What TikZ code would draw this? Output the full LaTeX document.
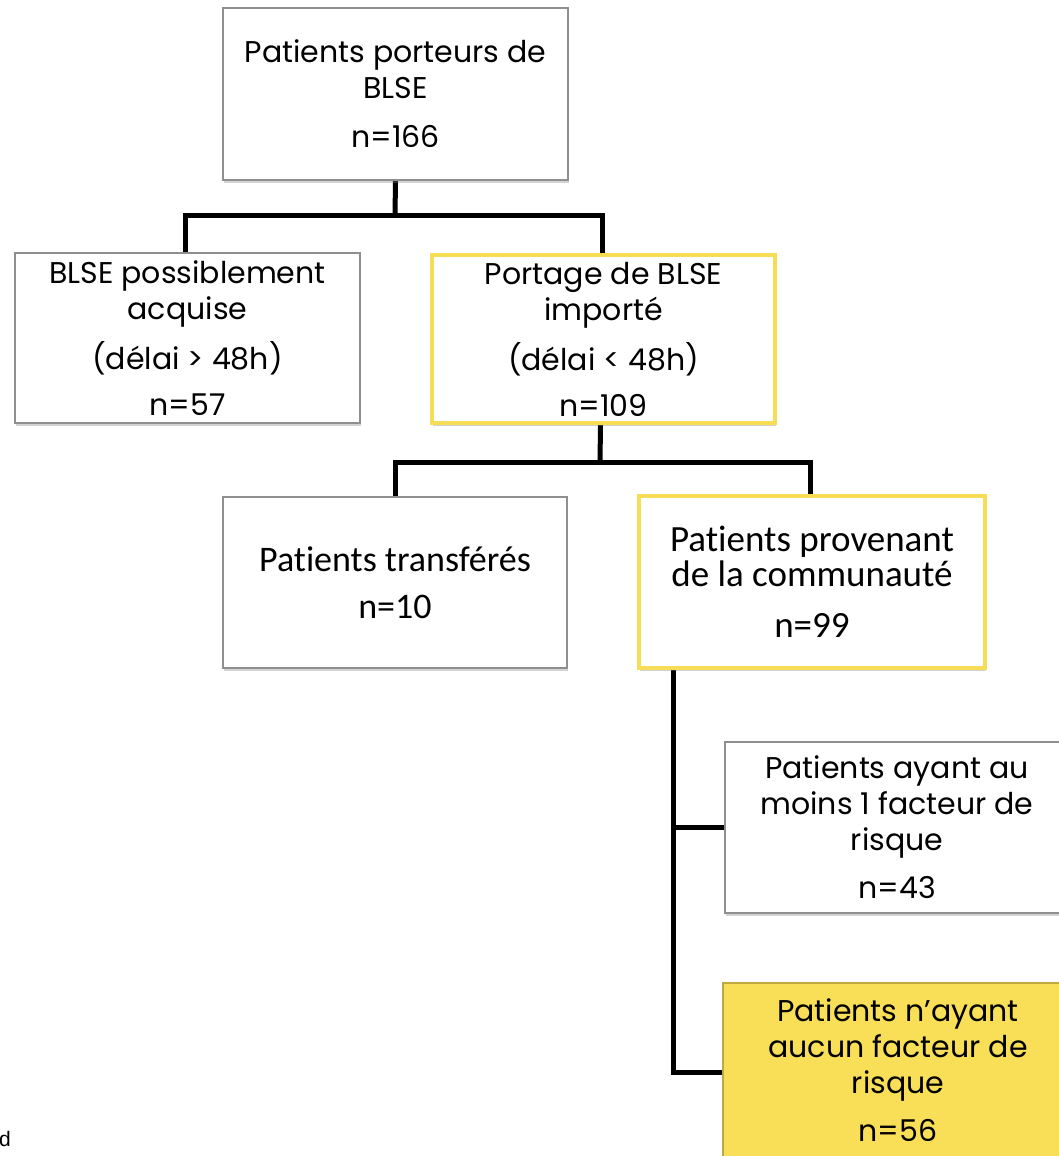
\documentclass[tikz,border=0pt]{standalone}
\usepackage{fontspec}
\setmainfont{Poppins}
\newfontfamily\calfont[Ligatures=NoCommon]{Carlito}
\newfontfamily\arialfont{Liberation Sans}
\usetikzlibrary{shadows,backgrounds}
\definecolor{ybord}{HTML}{F7DC55}
\definecolor{yfill}{HTML}{F9DE57}
\definecolor{ydark}{HTML}{BFA83E}
\definecolor{gbord}{HTML}{8F8F8F}
\tikzset{
  x=1pt,y=-1pt,
  box/.style={rectangle, inner sep=0pt, align=center, font=\fontsize{30}{36}\selectfont,
    drop shadow={opacity=0.35, shadow xshift=1pt, shadow yshift=-3pt}},
  graybox/.style={box, draw=gbord, line width=1.3pt, fill=white},
  yellowbox/.style={box, draw=ybord, line width=4pt, fill=white},
  filledbox/.style={box, draw=ydark, line width=2pt, fill=yfill},
  conn/.style={line width=5pt, black, line cap=rect}
}
\begin{document}
\begin{tikzpicture}
\useasboundingbox (0,0) rectangle (1059,1156);
% nodes
\node[graybox, minimum width=345pt, minimum height=172pt] (top) at (395.5,94)
  {Patients porteurs de\\BLSE\\[13pt]n=166};
\node[graybox, minimum width=345pt, minimum height=170pt] (acq) at (187.5,338)
  {BLSE possiblement\\acquise\\[14pt](délai > 48h)\\[10pt]n=57};
\node[yellowbox, minimum width=343pt, minimum height=168pt] (imp) at (603.5,339)
  {Portage de BLSE\\importé\\[14pt](délai < 48h)\\[10pt]n=109};
\node[graybox, minimum width=344pt, minimum height=171pt, font=\calfont\fontsize{36}{47}\selectfont] (trans) at (395,582.5)
  {Patients transférés\\n=10};
\node[yellowbox, minimum width=346pt, minimum height=172pt, font=\calfont\fontsize{37}{35}\selectfont] (comm) at (812,582)
  {Patients provenant\\de la communauté\\[16pt]n=99};
\node[graybox, minimum width=344pt, minimum height=171pt] (fr1) at (897,827.5)
  {Patients ayant au\\moins 1 facteur de\\risque\\[12pt]n=43};
\node[filledbox, minimum width=350pt, minimum height=174pt] (fr0) at (898,1070)
  {Patients n\char"0027 ayant\\aucun facteur de\\risque\\[12pt]n=56};
\node[font=\arialfont\fontsize{21}{23}\selectfont, anchor=base west, inner sep=0pt] (d) at (-1,1146) {d};
% connectors
\coordinate (j1) at (395,215);
\coordinate (j2) at (600,462);
\coordinate (j3) at (673,828);
\coordinate (j4) at (673,1072);
\begin{scope}[on background layer]
\draw[conn] (top.south) -- (j1);
\draw[conn] ([xshift=-2pt]acq.north) |- (j1) -| ([xshift=-1pt]imp.north);
\draw[conn] ([xshift=-3pt]imp.south) -- (j2);
\draw[conn] (trans.north) |- (j2) -| ([xshift=-2pt]comm.north);
\draw[conn] ([xshift=-139pt]comm.south) |- (fr1.west);
\draw[conn] (j3) -- (j4) -- (fr0.west |- j4);
\end{scope}
\end{tikzpicture}
\end{document}
